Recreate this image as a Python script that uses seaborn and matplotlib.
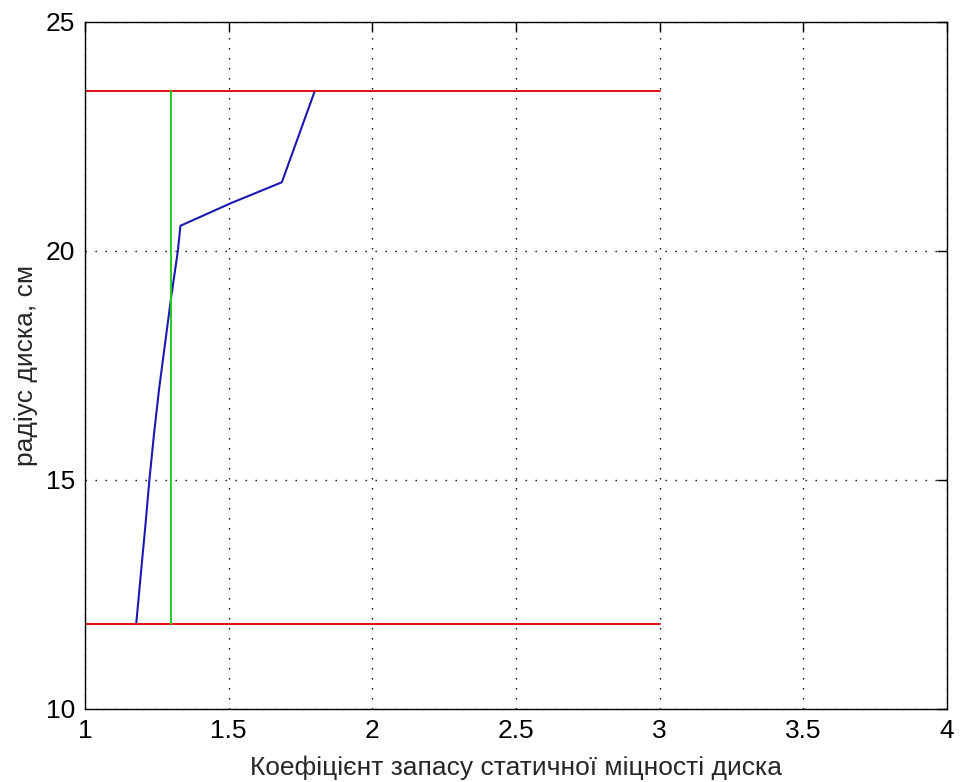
import matplotlib
matplotlib.use("Agg")
import matplotlib.pyplot as plt
import seaborn as sns
import pandas as pd

# Disk safety-factor profile along the radius
radius = [11.85, 13.0, 14.0, 15.0, 16.0, 17.0, 18.0, 19.0, 20.0, 20.55, 21.05, 21.5, 23.5]
safety_factor = [1.178, 1.195, 1.210, 1.224, 1.240, 1.258, 1.279, 1.300, 1.323, 1.332, 1.510, 1.685, 1.800]

# Inner / outer radius boundaries and required safety factor
r_inner = 11.85
r_outer = 23.5
boundary_x = [1.0, 3.0]
required_factor = 1.3

x_ticks = [1, 1.5, 2, 2.5, 3, 3.5, 4]
x_tick_labels = ["1", "1.5", "2", "2.5", "3", "3.5", "4"]
y_ticks = [10, 15, 20, 25]
y_tick_labels = ["10", "15", "20", "25"]

sns.set_style("white")
plt.rcParams["font.family"] = ["Liberation Sans", "DejaVu Sans"]

fig = plt.figure(figsize=(9.63, 7.82), dpi=100)
ax = fig.add_axes([0.0883, 0.0934, 0.8951, 0.8785])

line_kw = dict(sort=False, estimator=None, errorbar=None, ax=ax)

profile = pd.DataFrame({"k": safety_factor, "r": radius})
sns.lineplot(data=profile, x="k", y="r", color="#1a1ab0", lw=1.5, **line_kw)

for r in (r_outer, r_inner):
    edge = pd.DataFrame({"k": boundary_x, "r": [r, r]})
    sns.lineplot(data=edge, x="k", y="r", color="#e01010", lw=1.4, **line_kw)

req = pd.DataFrame({"k": [required_factor, required_factor], "r": [r_inner, r_outer]})
sns.lineplot(data=req, x="k", y="r", color="#22cc22", lw=1.4, **line_kw)

ax.set_xlim(1, 4)
ax.set_ylim(10, 25)
ax.set_xticks(x_ticks)
ax.set_xticklabels(x_tick_labels)
ax.set_yticks(y_ticks)
ax.set_yticklabels(y_tick_labels)

ax.grid(True, color="black", linestyle=(0, (1, 6.2)), linewidth=1.0)
ax.set_axisbelow(True)
for s in ax.spines.values():
    s.set_visible(True)
    s.set_color("black")
    s.set_linewidth(1.0)

ax.tick_params(direction="in", length=7, width=1.0, top=True, right=True,
               labelsize=19, colors="black", pad=7)
ax.set_xlabel("Коефіцієнт запасу статичної міцності диска", fontsize=19, labelpad=9)
ax.set_ylabel("радіус диска, см", fontsize=19, labelpad=6)

fig.savefig("out.png", dpi=100, facecolor="white")
